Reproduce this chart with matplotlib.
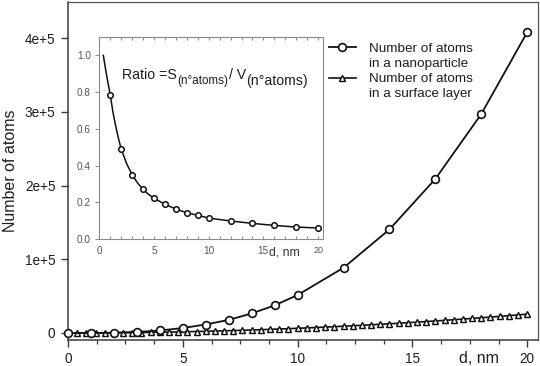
import matplotlib
matplotlib.use("Agg")
import matplotlib.pyplot as plt
from matplotlib.lines import Line2D
from matplotlib.ticker import MultipleLocator, FixedLocator

plt.rcParams['font.family'] = ['Liberation Sans', 'DejaVu Sans']

# ---- data ----
d_particle = [0, 1, 2, 3, 4, 5, 6, 7, 8, 9, 10, 12, 14, 16, 18, 20]
n_particle = [0, 50, 400, 1400, 3400, 6800, 11500, 17800, 26500, 37500,
              51500, 88500, 140500, 209000, 297000, 408000]

d_surface = [0.4, 0.8, 1.2, 1.6, 2.0, 2.4, 2.8, 3.2, 3.6, 4.0,
             4.4, 4.8, 5.2, 5.6, 6.0, 6.4, 6.8, 7.2, 7.6, 8.0,
             8.4, 8.8, 9.2, 9.6, 10.0, 10.4, 10.8, 11.2, 11.6, 12.0,
             12.4, 12.8, 13.2, 13.6, 14.0, 14.4, 14.8, 15.2, 15.6, 16.0,
             16.4, 16.8, 17.2, 17.6, 18.0, 18.4, 18.8, 19.2, 19.6, 20.0]
n_surface = [10, 40, 90, 160, 260, 370, 500, 650, 830, 1020,
             1240, 1470, 1720, 2000, 2300, 2610, 2950, 3310, 3690, 4080,
             4500, 4940, 5400, 5880, 6380, 6900, 7440, 8000, 8580, 9190,
             9810, 10450, 11120, 11800, 12500, 13230, 13970, 14740, 15530, 16330,
             17160, 18010, 18870, 19760, 20670, 21600, 22550, 23520, 24510, 25520]

ratio_d = [1, 2, 3, 4, 5, 6, 7, 8, 9, 10, 12, 14, 16, 18, 20]
ratio_v = [0.785, 0.49, 0.35, 0.27, 0.222, 0.189, 0.163, 0.143, 0.129, 0.114,
           0.098, 0.085, 0.074, 0.065, 0.060]
curve_d = [0.37, 0.6, 0.8, 1.0, 1.25, 1.5, 1.75, 2.0, 2.5, 3.0, 3.5, 4.0, 4.5,
           5, 6, 7, 8, 9, 10, 12, 14, 16, 18, 20]
curve_v = [1.0, 0.915, 0.848, 0.785, 0.69, 0.615, 0.548, 0.49, 0.41, 0.35,
           0.305, 0.27, 0.243, 0.222, 0.189, 0.163, 0.143, 0.129, 0.114,
           0.098, 0.085, 0.074, 0.065, 0.060]

main_yticks = [0, 100000, 200000, 300000, 400000]
main_yticklabels = ['0', '1e+5', '2e+5', '3e+5', '4e+5']
main_xticks = [0, 5, 10, 15, 20]
main_xticklabels = ['0', '5', '10', '15', '20']
inset_yticks = [0.0, 0.2, 0.4, 0.6, 0.8, 1.0]
inset_yticklabels = ['0.0', '0.2', '0.4', '0.6', '0.8', '1.0']
inset_xticks = [0, 5, 10, 15, 20]
inset_xticklabels = ['0', '5', '10', '15', '20']

label_particle = ['Number of atoms', 'in a nanoparticle']
label_surface = ['Number of atoms', 'in a surface layer']

TXT = '#1e1e1e'
SP = '#3a3a3a'

fig = plt.figure(figsize=(5.4, 3.66), dpi=100)
ax = fig.add_axes([68/540, 1 - 340/366, 470/540, 338/366])

ax.plot(d_surface, n_surface, color='#111111', lw=1.2, marker='^',
        ms=4.4, mfc='white', mec='#111111', mew=1.05, zorder=3, clip_on=False)
ax.plot(d_particle, n_particle, color='#111111', lw=1.3, marker='o',
        ms=5.6, mfc='white', mec='#111111', mew=1.2, zorder=4, clip_on=False)

ax.set_xlim(0, 20.47)
ax.set_ylim(-9500, 449000)
ax.xaxis.set_major_locator(FixedLocator(main_xticks))
ax.set_xticklabels(main_xticklabels)
ax.xaxis.set_minor_locator(MultipleLocator(1.25))
ax.yaxis.set_major_locator(FixedLocator(main_yticks))
ax.set_yticklabels(main_yticklabels)
for s in ['left', 'bottom']:
    ax.spines[s].set_color(SP)
    ax.spines[s].set_linewidth(1.1)
for s in ['top', 'right']:
    ax.spines[s].set_color('#555555')
    ax.spines[s].set_linewidth(0.9)
ax.tick_params(axis='both', which='major', direction='out', length=5,
               width=1.0, color=SP, labelsize=9.8, labelcolor=TXT, pad=4)
ax.tick_params(axis='x', which='minor', direction='out', length=2.6,
               width=0.9, color=SP)
ax.tick_params(axis='x', which='major', pad=3.5)
ax.set_ylabel('Number of atoms', fontsize=11.5, color=TXT)
ax.yaxis.set_label_coords(-0.106, 0.5)
ax.text(17.9, -0.056, 'd, nm', transform=ax.get_xaxis_transform(),
        ha='center', va='center', fontsize=11.5, color=TXT)

# legend
h1 = Line2D([], [], color='#111111', lw=1.3, marker='o', ms=5.6,
            mfc='white', mec='#111111', mew=1.2)
h2 = Line2D([], [], color='#111111', lw=1.2, marker='^', ms=4.4,
            mfc='white', mec='#111111', mew=1.05)
blank = Line2D([], [], linestyle='none', marker='none')
leg = ax.legend([h1, blank, h2, blank],
                [label_particle[0], label_particle[1],
                 label_surface[0], label_surface[1]],
                loc='upper left', bbox_to_anchor=(0.555, 0.880),
                frameon=False, fontsize=9.7, handlelength=2.0,
                handletextpad=0.95, labelspacing=0.2, borderpad=0,
                borderaxespad=0, numpoints=1)
for t in leg.get_texts():
    t.set_color(TXT)

# inset
ia = fig.add_axes([99.3/540, 1 - 239/366, 223.7/540, 202/366])
ia.plot(curve_d, curve_v, color='#111111', lw=1.1, zorder=3)
ia.plot(ratio_d, ratio_v, linestyle='none', marker='o', ms=4.0,
        mfc='white', mec='#111111', mew=1.1, zorder=4)
ia.set_xlim(0, 20.45)
ia.set_ylim(0, 1.1)
ia.xaxis.set_major_locator(FixedLocator(inset_xticks))
ia.set_xticklabels(inset_xticklabels)
ia.xaxis.set_minor_locator(MultipleLocator(1))
ia.yaxis.set_major_locator(FixedLocator(inset_yticks))
ia.set_yticklabels(inset_yticklabels)
for s in ia.spines.values():
    s.set_color('#8a8a8a')
    s.set_linewidth(0.8)
ia.tick_params(axis='x', which='both', direction='in', top=True,
               length=2.5, width=0.6, color='#777777', labelsize=7.2,
               labelcolor='#555555', pad=5)
ia.tick_params(axis='y', which='major', direction='out', length=3,
               width=0.6, color='#777777', labelsize=7.2,
               labelcolor='#555555', pad=3)
ia.xaxis.get_majorticklabels()[-1].set_fontsize(6.5)
ia.text(16.9, -0.066, 'd, nm', transform=ia.get_xaxis_transform(),
        ha='center', va='center', fontsize=8.8, color='#333333')

# ratio formula, built from pieces so the subscripts keep their size
BIG, SUB1, SUB2 = 10.2, 8.4, 10.2
t1 = ia.text(0.103, 0.775, 'Ratio =S', transform=ia.transAxes,
             ha='left', va='bottom', fontsize=BIG, color=TXT)
t2 = ia.annotate('(n°atoms)', xy=(1, 0), xycoords=t1, xytext=(0.3, -3.6),
                 textcoords='offset points', ha='left', va='bottom',
                 fontsize=SUB1, color=TXT)
t3 = ia.annotate('/ V', xy=(1, 0), xycoords=t2, xytext=(0.3, 3.6),
                 textcoords='offset points', ha='left', va='bottom',
                 fontsize=BIG, color=TXT)
t4 = ia.annotate('(n°atoms)', xy=(1, 0), xycoords=t3, xytext=(0.4, -4.0),
                 textcoords='offset points', ha='left', va='bottom',
                 fontsize=SUB2, color=TXT)

fig.savefig('out.png', dpi=100)
